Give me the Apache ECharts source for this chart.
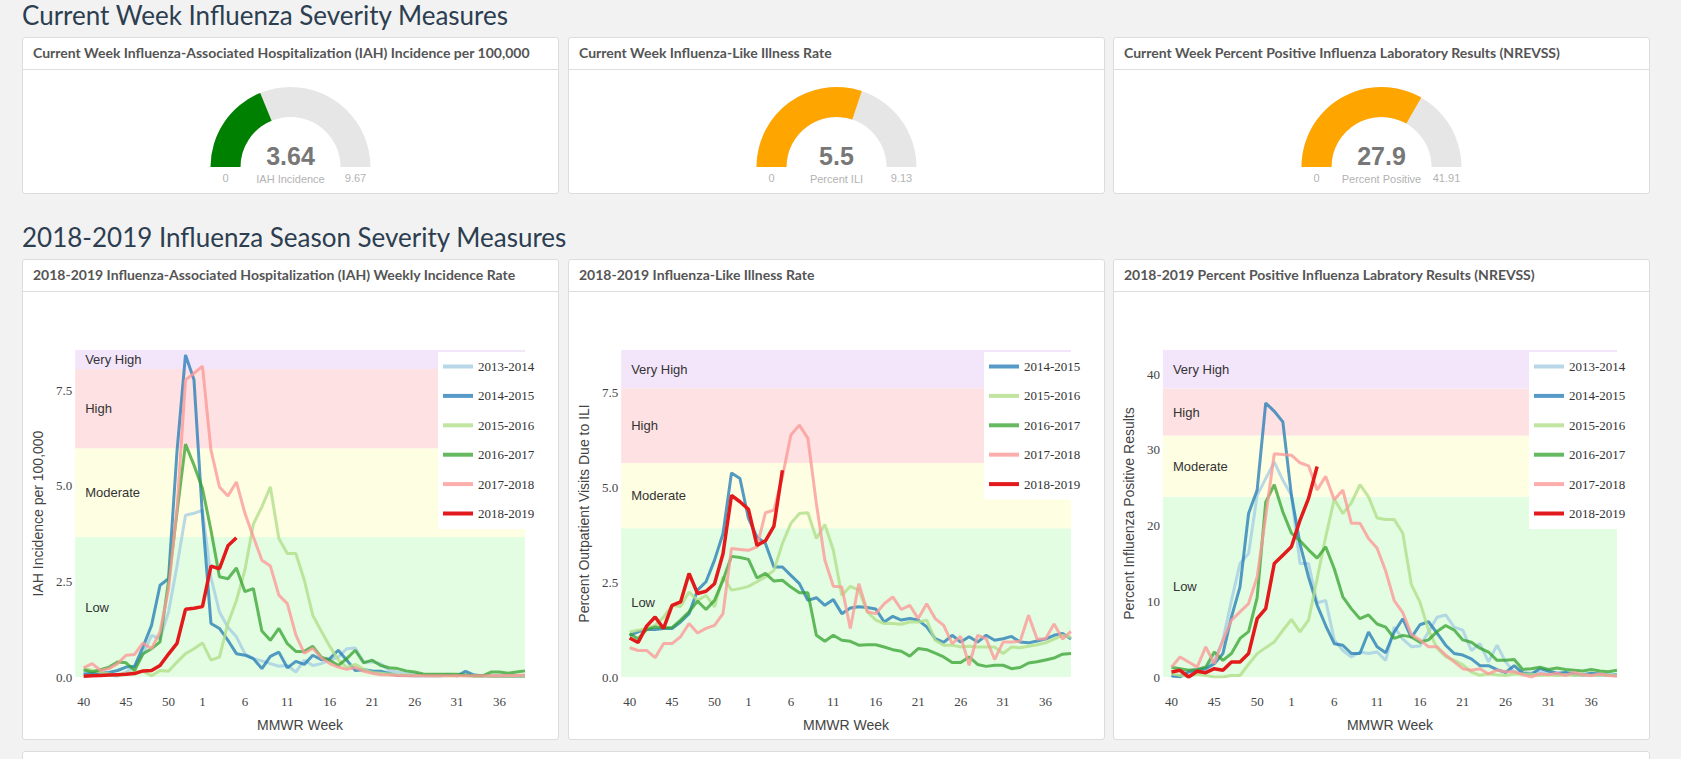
<!DOCTYPE html>
<html>
<head>
<meta charset="utf-8">
<title>Influenza Severity Measures</title>
<script src="https://cdn.jsdelivr.net/npm/echarts@6.0.0/dist/echarts.min.js"></script>
<style>
  html, body { margin: 0; padding: 0; background: #f2f2f2; width: 1681px; height: 759px; overflow: hidden; font-family: Lato, sans-serif; }
  .section-title { position: absolute; left: 22px; margin: 0; font-size: 26px; line-height: 1.2; font-weight: 400; color: #2c3e50; white-space: nowrap; }
  .panel { position: absolute; width: 537px; background: #fff; border: 1px solid #dcdcdc; border-radius: 3px; box-sizing: border-box; }
  .panel-head { position: absolute; left: 0; right: 0; top: 0; height: 32px; border-bottom: 1px solid #ddd; box-sizing: border-box; }
  .panel-head span { position: absolute; left: 10px; top: 6px; font-size: 14px; line-height: 18px; font-weight: 700; color: #555; white-space: nowrap; }
  .panel-body { position: absolute; left: 0; right: 0; top: 32px; bottom: 0; }
</style>
</head>
<body>

<h2 class="section-title" style="top:0px">Current Week Influenza Severity Measures</h2>

<div class="panel" style="left:22px; top:37px; height:157px">
  <div class="panel-head"><span>Current Week Influenza-Associated Hospitalization (IAH) Incidence per 100,000</span></div>
  <div class="panel-body" id="gaugeIah"></div>
</div>
<div class="panel" style="left:568px; top:37px; height:157px">
  <div class="panel-head"><span>Current Week Influenza-Like Illness Rate</span></div>
  <div class="panel-body" id="gaugeIli"></div>
</div>
<div class="panel" style="left:1113px; top:37px; height:157px">
  <div class="panel-head"><span>Current Week Percent Positive Influenza Laboratory Results (NREVSS)</span></div>
  <div class="panel-body" id="gaugeLab"></div>
</div>

<h2 class="section-title" style="top:222px">2018-2019 Influenza Season Severity Measures</h2>

<div class="panel" style="left:22px; top:259px; height:481px">
  <div class="panel-head"><span>2018-2019 Influenza-Associated Hospitalization (IAH) Weekly Incidence Rate</span></div>
  <div class="panel-body" id="chartIah"></div>
</div>
<div class="panel" style="left:568px; top:259px; height:481px">
  <div class="panel-head"><span>2018-2019 Influenza-Like Illness Rate</span></div>
  <div class="panel-body" id="chartIli"></div>
</div>
<div class="panel" style="left:1113px; top:259px; height:481px">
  <div class="panel-head"><span>2018-2019 Percent Positive Influenza Labratory Results (NREVSS)</span></div>
  <div class="panel-body" id="chartLab"></div>
</div>

<div class="panel" style="left:22px; top:751px; height:40px; width:1628px"></div>

<script>
// MMWR weeks of a season (week 40 through week 39 of the next year)
const weeks = [40, 41, 42, 43, 44, 45, 46, 47, 48, 49, 50, 51, 52, 53,
  1, 2, 3, 4, 5, 6, 7, 8, 9, 10, 11, 12, 13, 14, 15, 16, 17, 18, 19, 20,
  21, 22, 23, 24, 25, 26, 27, 28, 29, 30, 31, 32, 33, 34, 35, 36, 37, 38, 39];
const tickWeeks = [40, 45, 50, 1, 6, 11, 16, 21, 26, 31, 36];

const seasons = ['2013-2014', '2014-2015', '2015-2016', '2016-2017', '2017-2018', '2018-2019'];
const seasonColors = ['rgba(166,206,227,0.8)', 'rgba(31,120,180,0.75)', 'rgba(178,223,138,0.8)',
  'rgba(51,160,44,0.75)', 'rgba(251,154,153,0.8)', '#e31a1c'];

const bandNames = ['Low', 'Moderate', 'High', 'Very High'];
const bandColors = ['#e2fde2', '#fefee3', '#fee1e2', '#f4e6fa'];

// current week gauges
const gaugeValues = [3.64, 5.5, 27.9];
const gaugeMax = [9.67, 9.13, 41.91];
const gaugeLabels = ['IAH Incidence', 'Percent ILI', 'Percent Positive'];
const gaugeColors = ['#008000', '#ffa500', '#ffa500'];

// IAH incidence per 100,000
const iah2013 = [0.13, 0.12, 0.10, 0.05, 0.02, 0.13, 0.26, 0.60, 1.09, 1.00,
  1.70, 2.90, 4.23, 4.28, 4.36, 2.60, 1.70, 1.30, 1.05, 0.61,
  0.48, 0.42, 0.35, 0.28, 0.30, 0.13, 0.44, 0.30, 0.35, 0.44,
  0.52, 0.74, 0.76, 0.39, 0.39, 0.35, 0.17, 0.13, 0.10, 0.08,
  0.06, 0.05, 0.05, 0.04, 0.04, 0.04, 0.03, 0.03, 0.03, 0.03, 0.03, 0.03, 0.03];
const iah2014 = [0.07, 0.09, 0.10, 0.12, 0.17, 0.26, 0.28, 0.79, 1.35, 2.40,
  2.57, 5.90, 8.42, 7.77, 4.20, 1.40, 1.27, 0.96, 0.61, 0.57,
  0.48, 0.22, 0.54, 0.65, 0.24, 0.41, 0.33, 0.57, 0.45, 0.48,
  0.70, 0.44, 0.17, 0.19, 0.16, 0.15, 0.09, 0.04, 0.04, 0.03,
  0.03, 0.03, 0.03, 0.05, 0.03, 0.15, 0.05, 0.03, 0.02, 0.02, 0.02, 0.02, 0.02];
const iah2015 = [0.22, 0.18, 0.12, 0.08, 0.04, 0.09, 0.13, 0.15, 0.03, 0.17,
  0.15, 0.39, 0.61, 0.74, 0.89, 0.44, 0.52, 1.40, 2.00, 2.80,
  4.00, 4.45, 4.97, 3.62, 3.23, 3.23, 2.53, 1.61, 1.20, 0.80,
  0.45, 0.25, 0.33, 0.20, 0.12, 0.10, 0.08, 0.06, 0.05, 0.04,
  0.04, 0.03, 0.03, 0.03, 0.03, 0.03, 0.02, 0.02, 0.02, 0.02, 0.02, 0.02, 0.02];
const iah2016 = [0.19, 0.13, 0.19, 0.26, 0.39, 0.37, 0.17, 0.61, 0.74, 0.92,
  2.50, 4.30, 6.09, 5.54, 4.93, 3.84, 2.62, 2.57, 2.85, 2.23,
  2.31, 1.20, 0.96, 1.27, 0.87, 0.67, 0.67, 0.80, 0.52, 0.44,
  0.30, 0.48, 0.70, 0.37, 0.44, 0.30, 0.24, 0.22, 0.16, 0.13,
  0.08, 0.07, 0.07, 0.07, 0.07, 0.05, 0.03, 0.03, 0.13, 0.13, 0.10, 0.13, 0.16];
const iah2017 = [0.24, 0.35, 0.17, 0.22, 0.35, 0.57, 0.59, 0.89, 0.74, 1.18,
  2.30, 4.40, 7.77, 7.94, 8.13, 5.93, 4.97, 4.73, 5.10, 4.28,
  3.66, 3.05, 2.90, 2.14, 1.92, 1.10, 0.62, 0.75, 0.50, 0.35,
  0.26, 0.20, 0.25, 0.15, 0.10, 0.06, 0.05, 0.04, 0.03, 0.03,
  0.03, 0.03, 0.03, 0.03, 0.03, 0.03, 0.03, 0.03, 0.03, 0.03, 0.04, 0.04, 0.05];
const iah2018 = [0.02, 0.03, 0.04, 0.05, 0.06, 0.07, 0.09, 0.16, 0.17, 0.30,
  0.60, 0.88, 1.77, 1.80, 1.84, 2.90, 2.83, 3.43, 3.64];
const iahBands = [3.66, 5.98, 8.05];
const iahMax = 8.55;

// percent of outpatient visits due to ILI
const ili2014 = [1.10, 1.19, 1.25, 1.25, 1.28, 1.28, 1.45, 1.67, 2.29, 2.51,
  3.08, 3.78, 5.38, 5.23, 4.18, 3.69, 3.52, 2.90, 2.90, 2.68,
  2.46, 2.02, 2.09, 1.89, 2.04, 1.67, 1.82, 1.85, 1.83, 1.79,
  1.45, 1.60, 1.50, 1.54, 1.50, 1.32, 1.01, 0.91, 1.10, 0.92,
  1.06, 0.92, 1.10, 0.97, 1.01, 1.07, 0.92, 0.90, 0.95, 1.00, 1.10, 1.15, 1.00];
const ili2015 = [1.19, 1.23, 1.28, 1.36, 1.58, 1.89, 1.86, 2.24, 2.02, 2.15,
  1.85, 2.64, 2.29, 2.33, 2.39, 2.51, 2.64, 2.81, 3.52, 4.05,
  4.31, 4.33, 3.65, 4.02, 3.34, 2.15, 2.39, 2.29, 1.72, 1.50,
  1.41, 1.41, 1.39, 1.45, 1.45, 1.50, 0.97, 0.84, 0.84, 0.79,
  0.81, 0.79, 0.79, 0.79, 0.62, 0.79, 0.77, 0.81, 0.85, 0.90, 1.00, 1.10, 1.05];
const ili2016 = [1.14, 1.01, 1.25, 1.32, 1.30, 1.30, 1.50, 1.72, 2.00, 1.78,
  2.02, 2.55, 3.18, 3.15, 3.10, 2.61, 2.73, 2.53, 2.55, 2.37,
  2.22, 2.22, 1.10, 0.94, 1.10, 0.97, 0.94, 0.84, 0.85, 0.85,
  0.79, 0.72, 0.68, 0.55, 0.75, 0.72, 0.63, 0.53, 0.38, 0.38,
  0.53, 0.33, 0.28, 0.31, 0.31, 0.22, 0.25, 0.37, 0.40, 0.45, 0.50, 0.60, 0.62];
const ili2017 = [0.77, 0.70, 0.70, 0.51, 0.88, 0.88, 1.06, 1.41, 1.16, 1.28,
  1.36, 1.67, 3.39, 3.36, 3.34, 3.43, 4.33, 4.40, 5.28, 6.38,
  6.64, 6.29, 4.57, 3.08, 2.39, 2.37, 1.28, 2.46, 1.72, 1.67,
  1.93, 2.11, 1.78, 1.89, 1.54, 1.93, 1.54, 1.36, 0.88, 1.07,
  0.31, 1.10, 1.01, 0.46, 0.92, 0.92, 0.94, 1.63, 1.00, 1.00, 1.40, 1.00, 1.20];
const ili2018 = [1.03, 0.91, 1.34, 1.58, 1.28, 1.89, 1.98, 2.73, 2.20, 2.26,
  2.46, 3.25, 4.79, 4.62, 4.42, 3.47, 3.59, 3.98, 5.45];
const iliBands = [3.92, 5.64, 7.61];
const iliMax = 8.62;

// percent positive influenza laboratory results
const lab2013 = [0.0, 0.2, 0.9, 1.0, 1.3, 2.2, 4.85, 10.1, 15.0, 16.3,
  24.0, 26.2, 28.4, 26.0, 24.0, 15.0, 15.0, 9.8, 10.1, 4.9,
  3.5, 2.65, 3.3, 3.1, 3.3, 2.2, 6.6, 5.0, 4.0, 4.1,
  5.95, 7.9, 8.2, 6.6, 6.2, 3.5, 4.4, 2.0, 4.2, 2.0,
  0.66, 0.66, 0.5, 0.6, 0.5, 0.3, 0.5, 0.3, 0.2, 0.3, 0.2, 0.3, 0.2];
const lab2014 = [0.2, 0.0, 0.66, 0.88, 1.1, 1.76, 3.09, 7.9, 11.9, 21.6,
  24.7, 36.2, 35.1, 33.7, 24.0, 17.6, 13.2, 9.5, 6.8, 4.4,
  4.2, 3.1, 3.1, 5.95, 4.0, 3.2, 5.95, 7.7, 5.2, 6.9,
  7.3, 5.8, 4.2, 3.1, 2.9, 2.4, 1.5, 1.5, 0.97, 0.6,
  1.5, 0.5, 0.4, 1.1, 0.8, 0.5, 0.6, 0.4, 0.3, 0.5, 0.4, 0.2, 0.3];
const lab2015 = [0.44, 0.2, 0.1, 0.35, 0.2, 0.0, 0.0, 0.2, 0.2, 1.68,
  3.09, 3.88, 4.63, 6.17, 7.6, 5.95, 7.5, 13.0, 18.5, 23.5,
  21.6, 23.0, 25.4, 23.8, 21.0, 20.8, 20.8, 19.0, 12.2, 9.9,
  6.2, 3.8, 2.7, 2.2, 1.6, 0.66, 0.22, 0.44, 0.3, 0.2,
  0.4, 0.4, 0.4, 0.2, 0.3, 0.2, 0.3, 0.2, 0.3, 0.2, 0.3, 0.2, 0.2];
const lab2016 = [1.3, 1.1, 0.9, 1.0, 1.3, 3.3, 2.2, 3.1, 5.1, 6.0,
  10.5, 23.1, 25.4, 21.8, 19.0, 18.0, 16.8, 15.7, 17.2, 14.3,
  10.6, 9.0, 7.7, 8.2, 7.0, 6.6, 5.1, 5.5, 5.3, 4.6,
  4.9, 6.0, 6.8, 6.2, 4.9, 4.6, 3.8, 3.3, 2.2, 2.2,
  2.3, 1.0, 1.1, 1.3, 1.0, 1.2, 1.0, 0.9, 0.8, 1.0, 0.8, 0.7, 0.9];
const lab2017 = [1.3, 2.65, 1.98, 1.3, 3.97, 1.76, 4.85, 7.5, 8.6, 9.7,
  13.2, 21.2, 29.5, 29.4, 29.3, 28.3, 27.9, 24.7, 26.5, 23.4,
  24.7, 20.3, 20.3, 18.3, 17.0, 14.0, 10.1, 8.5, 5.6, 4.9,
  4.0, 4.0, 2.9, 2.0, 1.1, 0.9, 1.1, 0.4, 0.9, 0.7,
  0.7, 0.3, 0.0, 0.44, 0.3, 0.5, 0.2, 0.6, 0.3, 0.2, 0.4, 0.2, 0.1];
const lab2018 = [0.66, 0.88, 0.0, 0.75, 0.57, 1.1, 0.88, 1.98, 1.98, 3.09,
  7.7, 9.04, 15.0, 16.1, 17.2, 20.7, 23.6, 27.8];
const labBands = [23.8, 31.9, 38.1];
const labMax = 43.2;

const SANS = '"Liberation Sans", Arial, sans-serif';
const SERIF = '"Liberation Serif", "Times New Roman", serif';

function colorOf(name) {
  return seasonColors[seasons.indexOf(name)];
}

function gaugeOption(k, width) {
  const cx = width / 2;
  const radius = 80;
  const thick = 30;
  return {
    animation: false,
    series: [{
      type: 'gauge',
      startAngle: 180,
      endAngle: 0,
      min: 0,
      max: gaugeMax[k],
      center: ['50%', 97],
      radius: radius,
      pointer: { show: false },
      anchor: { show: false },
      progress: { show: true, width: thick, itemStyle: { color: gaugeColors[k] } },
      axisLine: { lineStyle: { width: thick, color: [[1, '#e6e6e6']] } },
      axisTick: { show: false },
      splitLine: { show: false },
      axisLabel: { show: false },
      title: { offsetCenter: [0, 12], fontSize: 11, color: '#b3b3b3', fontFamily: SANS },
      detail: { offsetCenter: [0, -11], fontSize: 25, fontWeight: 'bold', color: '#777', fontFamily: SANS },
      data: [{ value: gaugeValues[k], name: gaugeLabels[k] }]
    }],
    // min and max under the two ends of the arc
    graphic: [0, gaugeMax[k]].map((t, j) => ({
      type: 'text',
      x: cx + (j === 0 ? -1 : 1) * (radius - thick / 2),
      y: 108,
      style: { text: String(t), fill: '#b3b3b3', font: '11px ' + SANS, align: 'center', verticalAlign: 'middle' }
    }))
  };
}

function seasonOption(list, bands, yMax, yStep, decimals, yName, gridLeft, gridRight, nameGap) {
  const edges = [0].concat(bands, [yMax]);
  const areas = bandNames.map((name, k) => [
    { name: name, yAxis: edges[k], itemStyle: { color: bandColors[k] } },
    { yAxis: edges[k + 1] }
  ]);
  const lines = list.map(([name, vals]) => ({
    name: name,
    type: 'line',
    symbol: 'none',
    z: 3,
    data: vals.map((v, i) => [i, v]),
    lineStyle: { width: name === '2018-2019' ? 3.5 : 3, color: colorOf(name) },
    itemStyle: { color: colorOf(name) }
  }));
  return {
    animation: false,
    grid: { left: gridLeft, right: gridRight, top: 58, bottom: 62 },
    legend: {
      data: list.map(s => s[0]),
      orient: 'vertical',
      left: 415,
      top: 60,
      icon: 'rect',
      itemWidth: 30,
      itemHeight: 4,
      itemGap: 16.4,
      padding: [8, 4, 9, 5],
      backgroundColor: '#fff',
      selectedMode: false,
      textStyle: { fontFamily: SERIF, fontSize: 13, color: '#333' }
    },
    xAxis: {
      type: 'value',
      min: -1,
      max: weeks.length - 1,
      interval: 1,
      name: 'MMWR Week',
      nameLocation: 'middle',
      nameGap: 41,
      nameTextStyle: { fontFamily: SANS, fontSize: 14, color: '#444' },
      axisLine: { show: false },
      axisTick: { show: false },
      splitLine: { show: false },
      axisLabel: {
        margin: 18,
        fontFamily: SERIF,
        fontSize: 13,
        color: '#444',
        formatter: v => (tickWeeks.indexOf(weeks[v]) >= 0 ? String(weeks[v]) : '')
      }
    },
    yAxis: {
      type: 'value',
      min: 0,
      max: yMax,
      interval: yStep,
      name: yName,
      nameLocation: 'middle',
      nameGap: nameGap,
      nameTextStyle: { fontFamily: SANS, fontSize: 14, color: '#444' },
      axisLine: { show: false },
      axisTick: { show: false },
      splitLine: { show: false },
      axisLabel: {
        margin: 3,
        showMaxLabel: false,
        fontFamily: SERIF,
        fontSize: 13,
        color: '#444',
        formatter: v => v.toFixed(decimals)
      }
    },
    series: [{
      type: 'line',
      name: 'bands',
      z: 1,
      silent: true,
      data: [],
      markArea: {
        silent: true,
        label: { position: 'insideLeft', distance: 10, color: '#333', fontSize: 13, fontFamily: SANS },
        data: areas
      }
    }].concat(lines)
  };
}

document.addEventListener('DOMContentLoaded', () => {
  const charts = [];

  ['gaugeIah', 'gaugeIli', 'gaugeLab'].forEach((id, k) => {
    const el = document.getElementById(id);
    const chart = echarts.init(el, null, { renderer: 'svg' });
    chart.setOption(gaugeOption(k, chart.getWidth()));
    charts.push(chart);
  });

  const iahChart = echarts.init(document.getElementById('chartIah'), null, { renderer: 'svg' });
  iahChart.setOption(seasonOption(
    [['2013-2014', iah2013], ['2014-2015', iah2014], ['2015-2016', iah2015],
     ['2016-2017', iah2016], ['2017-2018', iah2017], ['2018-2019', iah2018]],
    iahBands, iahMax, 2.5, 1, 'IAH Incidence per 100,000', 51, 33, 28));
  charts.push(iahChart);

  const iliChart = echarts.init(document.getElementById('chartIli'), null, { renderer: 'svg' });
  iliChart.setOption(seasonOption(
    [['2014-2015', ili2014], ['2015-2016', ili2015], ['2016-2017', ili2016],
     ['2017-2018', ili2017], ['2018-2019', ili2018]],
    iliBands, iliMax, 2.5, 1, 'Percent Outpatient Visits Due to ILI', 51, 33, 28));
  charts.push(iliChart);

  const labChart = echarts.init(document.getElementById('chartLab'), null, { renderer: 'svg' });
  labChart.setOption(seasonOption(
    [['2013-2014', lab2013], ['2014-2015', lab2014], ['2015-2016', lab2015],
     ['2016-2017', lab2016], ['2017-2018', lab2017], ['2018-2019', lab2018]],
    labBands, labMax, 10, 0, 'Percent Influenza Positive Results', 47, 32, 24));
  charts.push(labChart);

  window.addEventListener('resize', () => charts.forEach(c => c.resize()));
});
</script>
</body>
</html>
